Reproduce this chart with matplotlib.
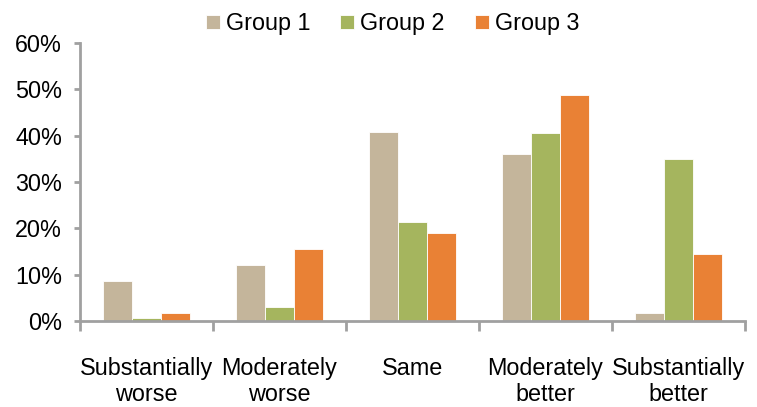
import numpy as np
import matplotlib.pyplot as plt
from matplotlib.ticker import PercentFormatter

plt.rcParams['font.family'] = ['Liberation Sans', 'DejaVu Sans']

categories = ['Substantially\nworse', 'Moderately\nworse', 'Same', 'Moderately\nbetter', 'Substantially\nbetter']
group1 = [8.6, 12.1, 40.8, 36.1, 1.8]
group2 = [0.7, 3.0, 21.4, 40.6, 34.9]
group3 = [1.7, 15.5, 19.0, 48.7, 14.4]
series = {'Group 1': group1, 'Group 2': group2, 'Group 3': group3}
colors = ['#C4B59B', '#A5B55E', '#E98135']
axis_gray = '#A0A0A0'
fs = 16.8

fig = plt.figure(figsize=(7.57, 4.07), dpi=100)
ax = fig.add_axes([0.1057, 0.211, 0.8783, 0.683])

x = np.arange(len(categories))
w = 0.22
for i, (name, vals) in enumerate(series.items()):
    ax.bar(x + (i - 1) * w, vals, width=w, color=colors[i], label=name,
           edgecolor='white', linewidth=0.6, zorder=2)

ax.set_xlim(-0.5, len(categories) - 0.5)
ax.set_ylim(0, 60)
ax.set_yticks(np.arange(0, 61, 10))
ax.yaxis.set_major_formatter(PercentFormatter(decimals=0))

ax.set_xticks(x)
ax.set_xticklabels(categories, fontsize=fs, linespacing=1.18)
ax.set_xticks(np.arange(-0.5, len(categories), 1), minor=True)
ax.tick_params(axis='x', which='major', length=0, pad=26)
ax.tick_params(axis='x', which='minor', length=7, width=2, color=axis_gray, direction='out')
ax.tick_params(axis='y', length=4, width=2, color=axis_gray, labelsize=fs, pad=9)

for s in ['top', 'right']:
    ax.spines[s].set_visible(False)
for s in ['left', 'bottom']:
    ax.spines[s].set_color(axis_gray)
    ax.spines[s].set_linewidth(2)

ax.legend(loc='lower center', bbox_to_anchor=(0.47, 0.995), ncol=3, frameon=False,
          fontsize=fs, handlelength=0.6, handleheight=0.6, handletextpad=0.25,
          columnspacing=1.3, borderaxespad=0)

fig.savefig('out.png', dpi=100)
